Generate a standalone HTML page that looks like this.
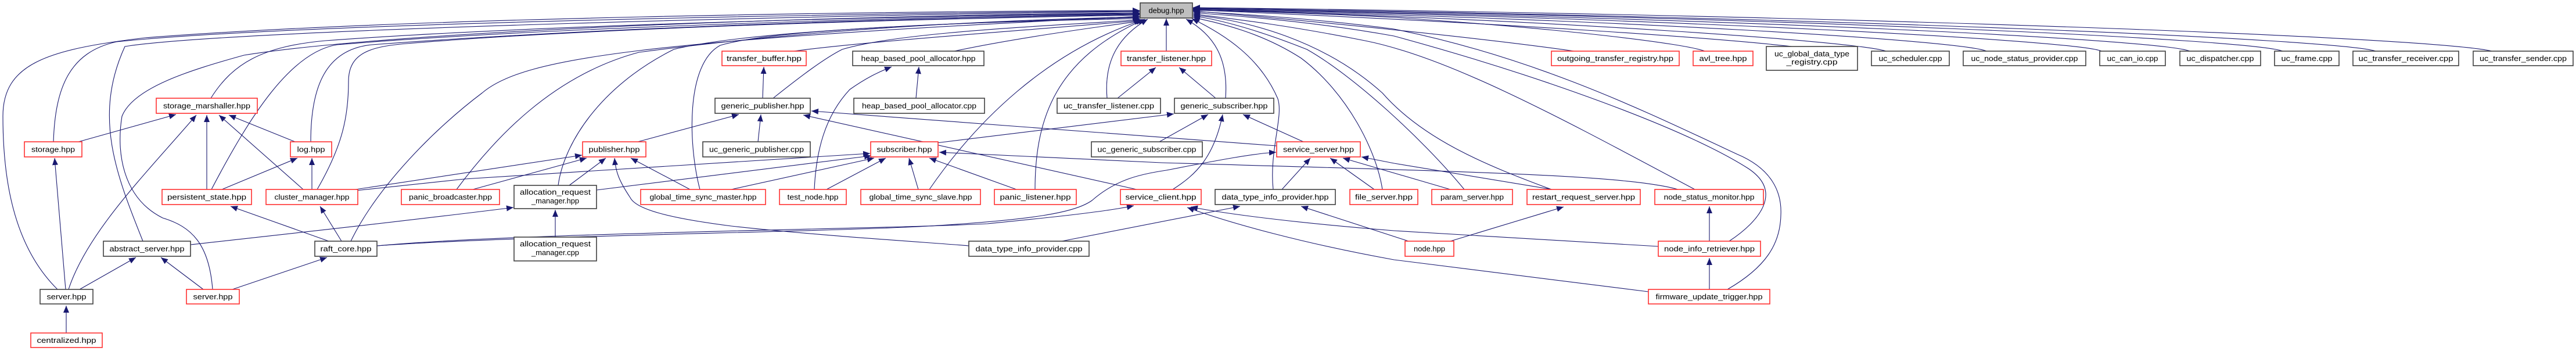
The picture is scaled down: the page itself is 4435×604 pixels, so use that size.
<!DOCTYPE html>
<html><head><meta charset="utf-8"><style>
html,body{margin:0;padding:0;background:#fff;}
svg{display:block;}
text{font-family:"Liberation Sans",sans-serif;font-size:13px;fill:#000;text-anchor:middle;}
.r{fill:#fff;stroke:#ff3030;stroke-width:1.6;}
.b{fill:#fff;stroke:#404040;stroke-width:1.6;}
.e{fill:none;stroke:#191970;stroke-width:1.1;}
</style></head><body>
<svg width="4435" height="604" viewBox="0 0 4435 604" xmlns="http://www.w3.org/2000/svg">
<defs><marker id="a" markerUnits="userSpaceOnUse" markerWidth="14" markerHeight="12" refX="12" refY="5" orient="auto"><path d="M0,0 L12,5 L0,10 z" fill="#191970"/></marker></defs>
<g class="e" marker-end="url(#a)">
<!-- edges to debug (left) -->
<path d="M99 498 C20 420,5 300,5 200 C5 110,80 85,250 65 C700 30,1500 20,1962 18"/>
<path d="M92 244 C95 150,120 90,200 72 C500 40,1500 22,1962 19"/>
<path d="M246 415 C200 300,160 200,215 80 C400 50,1500 24,1962 20"/>
<path d="M366 498 C360 420,330 390,280 375 C210 340,200 260,210 200 C230 150,330 120,420 95 C700 50,1500 26,1962 22"/>
<path d="M363 169 C400 110,450 80,560 70 C900 45,1500 28,1962 23"/>
<path d="M364 326 C430 200,500 90,580 77 C900 50,1500 30,1962 24"/>
<path d="M535 244 C535 150,560 85,640 77 C1000 50,1500 32,1962 25"/>
<path d="M546 326 C590 250,600 200,600 140 C600 90,640 80,700 75 C1000 50,1500 34,1962 26"/>
<path d="M604 415 C650 320,750 220,830 160 C900 100,1100 70,1962 28"/>
<path d="M786 326 C850 240,950 130,1100 90 C1400 50,1700 35,1962 29"/>
<path d="M961 319 C970 250,1030 150,1160 85 C1300 50,1700 38,1962 30"/>
<path d="M1205 326 C1185 250,1180 110,1240 78 C1350 45,1800 35,1963 32"/>
<path d="M1331 169 C1380 130,1420 100,1450 85 C1550 55,1800 45,1964 34"/>
<path d="M1367 88 C1500 70,1800 50,1965 35"/>
<path d="M1643 88 C1750 65,1900 45,1966 36"/>
<path d="M1600 326 C1680 210,1800 90,1968 34"/>
<path d="M1782 326 C1782 200,1820 100,1971 33"/>
<path d="M1906 169 C1900 100,1930 60,1976 33"/>
<path d="M2008 88 L2008 32"/>
<!-- edges to debug (right) -->
<path d="M2110 169 C2115 100,2090 60,2042 33"/>
<path d="M2192 326 C2185 260,2210 200,2200 170 C2170 100,2110 60,2052 32"/>
<path d="M2380 326 C2370 260,2320 160,2240 100 C2170 55,2100 40,2054 30"/>
<path d="M2521 326 C2450 240,2330 130,2250 85 C2150 45,2080 30,2054 28"/>
<path d="M2671 326 C2560 285,2450 240,2380 160 C2280 70,2150 35,2054 26"/>
<path d="M2918 326 C2700 210,2500 100,2350 70 C2200 40,2100 30,2054 24"/>
<path d="M2977 415 C3030 380,3070 330,3010 290 C2900 220,2650 130,2400 62 C2250 35,2100 25,2054 22"/>
<path d="M2974 498 C3040 460,3065 420,3066 370 C3068 330,3050 290,2990 265 C2850 200,2650 100,2400 50 C2250 30,2100 22,2054 20"/>
<path d="M2710 88 C2550 65,2250 35,2054 19"/>
<path d="M2935 88 C2900 75,2700 50,2400 30 C2250 22,2100 18,2054 18"/>
<path d="M3085 80 C2950 65,2600 40,2054 17"/>
<path d="M3247 88 C3200 72,2700 35,2054 16"/>
<path d="M3420 88 C3380 70,2800 33,2054 16"/>
<path d="M3618 88 C3580 70,2900 32,2054 15"/>
<path d="M3770 88 C3720 68,3000 31,2054 15"/>
<path d="M3930 88 C3880 68,3100 30,2054 14"/>
<path d="M4090 88 C4030 68,3200 30,2054 14"/>
<path d="M4290 88 C4200 66,3300 28,2054 13"/>
<!-- other edges -->
<path d="M135 244 L303 197"/>
<path d="M118 498 C150 400,250 300,338 198"/>
<path d="M356 326 L356 198"/>
<path d="M522 326 L377 198"/>
<path d="M508 244 L394 198"/>
<path d="M382 326 L512 272"/>
<path d="M537 326 L537 272"/>
<path d="M113 498 L94 272"/>
<path d="M566 415 L397 355"/>
<path d="M588 415 L551 355"/>
<path d="M137 498 L234 443"/>
<path d="M350 498 L277 443"/>
<path d="M400 498 L563 443"/>
<path d="M114 573 L114 526"/>
<path d="M328 421 C500 402,700 380,884 357"/>
<path d="M649 423 C900 400,1500 395,1700 385 C1800 375,1900 365,1952 354"/>
<path d="M649 423 C900 405,1400 400,1600 389 C1780 378,1850 366,1880 345 C1920 310,1960 300,2008 293 C2100 275,2160 264,2197 262"/>
<path d="M612 326 L1002 267"/>
<path d="M612 328 L800 308 L1498 264"/>
<path d="M814 326 L1010 272"/>
<path d="M980 319 L1043 272"/>
<path d="M1188 326 L1086 272"/>
<path d="M1098 244 L1272 197"/>
<path d="M1305 244 L1310 197"/>
<path d="M1313 169 L1315 115"/>
<path d="M2198 251 L1397 191"/>
<path d="M1957 326 L1383 198"/>
<path d="M1577 169 L1582 115"/>
<path d="M1402 326 C1405 260,1420 200,1463 154 C1490 135,1510 125,1535 115"/>
<path d="M1423 326 L1525 272"/>
<path d="M1259 326 L1505 272"/>
<path d="M1027 327 L1500 268"/>
<path d="M1581 326 L1565 272"/>
<path d="M1750 326 L1600 272"/>
<path d="M2889 326 C2800 300,2500 295,2000 280 L1617 262"/>
<path d="M1612 246 L2021 196"/>
<path d="M956 408 L956 361"/>
<path d="M1668 423 C1640 420,1400 405,1259 389 C1150 375,1095 360,1085 340 C1065 310,1060 295,1058 272"/>
<path d="M1924 169 L1990 116"/>
<path d="M2093 169 L2030 116"/>
<path d="M1996 244 L2080 197"/>
<path d="M2244 244 L2140 197"/>
<path d="M2019 326 C2060 300,2090 270,2105 197"/>
<path d="M2207 326 L2256 272"/>
<path d="M2366 326 L2290 272"/>
<path d="M2497 326 L2312 272"/>
<path d="M2672 326 L2400 281 L2344 270"/>
<path d="M1828 415 L2135 355"/>
<path d="M2425 415 L2240 355"/>
<path d="M2497 415 L2692 356"/>
<path d="M2855 424 L2400 397 C2250 385,2120 370,2050 356"/>
<path d="M2838 502 L2400 447 C2250 420,2120 385,2044 357"/>
<path d="M2943 415 L2943 355"/>
<path d="M2943 498 L2943 444"/>
</g>
<!-- nodes -->
<rect x="1963" y="5" width="90" height="26" fill="#bfbfbf" stroke="#404040" stroke-width="1.6"/><text x="2008" y="22.5" textLength="61" lengthAdjust="spacingAndGlyphs">debug.hpp</text>
<rect class="r" x="269" y="169" width="174" height="26"/><text x="356" y="186.5" textLength="150" lengthAdjust="spacingAndGlyphs">storage_marshaller.hpp</text>
<rect class="r" x="42" y="244" width="99" height="26"/><text x="91.5" y="261.5" textLength="75" lengthAdjust="spacingAndGlyphs">storage.hpp</text>
<rect class="r" x="500" y="244" width="71" height="26"/><text x="535.5" y="261.5" textLength="48" lengthAdjust="spacingAndGlyphs">log.hpp</text>
<rect class="r" x="279" y="326" width="154" height="26"/><text x="356" y="343.5" textLength="136" lengthAdjust="spacingAndGlyphs">persistent_state.hpp</text>
<rect class="r" x="458" y="326" width="158" height="26"/><text x="537" y="343.5" textLength="129" lengthAdjust="spacingAndGlyphs">cluster_manager.hpp</text>
<rect class="r" x="691" y="326" width="169" height="26"/><text x="775.5" y="343.5" textLength="143" lengthAdjust="spacingAndGlyphs">panic_broadcaster.hpp</text>
<rect class="b" x="178" y="415" width="150" height="26"/><text x="253" y="432.5" textLength="129" lengthAdjust="spacingAndGlyphs">abstract_server.hpp</text>
<rect class="b" x="542" y="415" width="107" height="26"/><text x="595.5" y="432.5" textLength="88" lengthAdjust="spacingAndGlyphs">raft_core.hpp</text>
<rect class="b" x="69" y="498" width="91" height="25"/><text x="114.5" y="515" textLength="68" lengthAdjust="spacingAndGlyphs">server.hpp</text>
<rect class="r" x="321" y="498" width="91" height="25"/><text x="366.5" y="515" textLength="68" lengthAdjust="spacingAndGlyphs">server.hpp</text>
<rect class="r" x="53" y="573" width="123" height="25"/><text x="114.5" y="590" textLength="102" lengthAdjust="spacingAndGlyphs">centralized.hpp</text>
<rect class="r" x="1243" y="88" width="145" height="25"/><text x="1315.5" y="105" textLength="129" lengthAdjust="spacingAndGlyphs">transfer_buffer.hpp</text>
<rect class="b" x="1468" y="88" width="226" height="25"/><text x="1581" y="105" textLength="197" lengthAdjust="spacingAndGlyphs">heap_based_pool_allocator.hpp</text>
<rect class="b" x="1231" y="169" width="164" height="26"/><text x="1313" y="186.5" textLength="143" lengthAdjust="spacingAndGlyphs">generic_publisher.hpp</text>
<rect class="b" x="1470" y="169" width="225" height="26"/><text x="1582.5" y="186.5" textLength="197" lengthAdjust="spacingAndGlyphs">heap_based_pool_allocator.cpp</text>
<rect class="r" x="1003" y="244" width="109" height="26"/><text x="1057.5" y="261.5" textLength="88" lengthAdjust="spacingAndGlyphs">publisher.hpp</text>
<rect class="b" x="1210" y="244" width="185" height="26"/><text x="1302.5" y="261.5" textLength="163" lengthAdjust="spacingAndGlyphs">uc_generic_publisher.cpp</text>
<rect class="r" x="1499" y="244" width="116" height="26"/><text x="1557" y="261.5" textLength="95" lengthAdjust="spacingAndGlyphs">subscriber.hpp</text>
<rect class="b" x="885" y="319" width="142" height="40"/><text x="956" y="335" textLength="122" lengthAdjust="spacingAndGlyphs">allocation_request</text><text x="956" y="350" textLength="82" lengthAdjust="spacingAndGlyphs">_manager.hpp</text>
<rect class="r" x="1103" y="326" width="215" height="26"/><text x="1210.5" y="343.5" textLength="184" lengthAdjust="spacingAndGlyphs">global_time_sync_master.hpp</text>
<rect class="r" x="1342" y="326" width="115" height="26"/><text x="1399.5" y="343.5" textLength="88" lengthAdjust="spacingAndGlyphs">test_node.hpp</text>
<rect class="r" x="1482" y="326" width="206" height="26"/><text x="1585" y="343.5" textLength="177" lengthAdjust="spacingAndGlyphs">global_time_sync_slave.hpp</text>
<rect class="b" x="885" y="408" width="142" height="41"/><text x="956" y="424" textLength="122" lengthAdjust="spacingAndGlyphs">allocation_request</text><text x="956" y="439" textLength="82" lengthAdjust="spacingAndGlyphs">_manager.cpp</text>
<rect class="r" x="1930" y="88" width="156" height="25"/><text x="2008" y="105" textLength="136" lengthAdjust="spacingAndGlyphs">transfer_listener.hpp</text>
<rect class="b" x="1820" y="169" width="178" height="26"/><text x="1909" y="186.5" textLength="156" lengthAdjust="spacingAndGlyphs">uc_transfer_listener.cpp</text>
<rect class="b" x="2022" y="169" width="171" height="26"/><text x="2107.5" y="186.5" textLength="150" lengthAdjust="spacingAndGlyphs">generic_subscriber.hpp</text>
<rect class="b" x="1879" y="244" width="191" height="26"/><text x="1974.5" y="261.5" textLength="170" lengthAdjust="spacingAndGlyphs">uc_generic_subscriber.cpp</text>
<rect class="r" x="2198" y="244" width="144" height="26"/><text x="2270" y="261.5" textLength="122" lengthAdjust="spacingAndGlyphs">service_server.hpp</text>
<rect class="r" x="1712" y="326" width="141" height="26"/><text x="1782.5" y="343.5" textLength="122" lengthAdjust="spacingAndGlyphs">panic_listener.hpp</text>
<rect class="r" x="1929" y="326" width="139" height="26"/><text x="1998.5" y="343.5" textLength="122" lengthAdjust="spacingAndGlyphs">service_client.hpp</text>
<rect class="b" x="2092" y="326" width="207" height="26"/><text x="2195.5" y="343.5" textLength="184" lengthAdjust="spacingAndGlyphs">data_type_info_provider.hpp</text>
<rect class="r" x="2324" y="326" width="117" height="26"/><text x="2382.5" y="343.5" textLength="99" lengthAdjust="spacingAndGlyphs">file_server.hpp</text>
<rect class="b" x="1668" y="415" width="207" height="26"/><text x="1771.5" y="432.5" textLength="184" lengthAdjust="spacingAndGlyphs">data_type_info_provider.cpp</text>
<rect class="r" x="2465" y="326" width="139" height="26"/><text x="2534.5" y="343.5" textLength="109" lengthAdjust="spacingAndGlyphs">param_server.hpp</text>
<rect class="r" x="2629" y="326" width="195" height="26"/><text x="2726.5" y="343.5" textLength="177" lengthAdjust="spacingAndGlyphs">restart_request_server.hpp</text>
<rect class="r" x="2849" y="326" width="187" height="26"/><text x="2942.5" y="343.5" textLength="156" lengthAdjust="spacingAndGlyphs">node_status_monitor.hpp</text>
<rect class="r" x="2671" y="88" width="220" height="25"/><text x="2781" y="105" textLength="200" lengthAdjust="spacingAndGlyphs">outgoing_transfer_registry.hpp</text>
<rect class="r" x="2915" y="88" width="103" height="25"/><text x="2966.5" y="105" textLength="82" lengthAdjust="spacingAndGlyphs">avl_tree.hpp</text>
<rect class="b" x="3041" y="80" width="157" height="41"/><text x="3119.5" y="97" textLength="129" lengthAdjust="spacingAndGlyphs">uc_global_data_type</text><text x="3119.5" y="111" textLength="88" lengthAdjust="spacingAndGlyphs">_registry.cpp</text>
<rect class="r" x="2419" y="415" width="84" height="26"/><text x="2461" y="432.5" textLength="54" lengthAdjust="spacingAndGlyphs">node.hpp</text>
<rect class="r" x="2855" y="415" width="176" height="26"/><text x="2943" y="432.5" textLength="156" lengthAdjust="spacingAndGlyphs">node_info_retriever.hpp</text>
<rect class="r" x="2838" y="498" width="209" height="25"/><text x="2942.5" y="515" textLength="184" lengthAdjust="spacingAndGlyphs">firmware_update_trigger.hpp</text>
<rect class="b" x="3222" y="88" width="134" height="25"/><text x="3289" y="105" textLength="109" lengthAdjust="spacingAndGlyphs">uc_scheduler.cpp</text>
<rect class="b" x="3380" y="88" width="211" height="25"/><text x="3485.5" y="105" textLength="184" lengthAdjust="spacingAndGlyphs">uc_node_status_provider.cpp</text>
<rect class="b" x="3615" y="88" width="113" height="25"/><text x="3671.5" y="105" textLength="88" lengthAdjust="spacingAndGlyphs">uc_can_io.cpp</text>
<rect class="b" x="3753" y="88" width="139" height="25"/><text x="3822.5" y="105" textLength="116" lengthAdjust="spacingAndGlyphs">uc_dispatcher.cpp</text>
<rect class="b" x="3916" y="88" width="111" height="25"/><text x="3971.5" y="105" textLength="88" lengthAdjust="spacingAndGlyphs">uc_frame.cpp</text>
<rect class="b" x="4051" y="88" width="182" height="25"/><text x="4142" y="105" textLength="163" lengthAdjust="spacingAndGlyphs">uc_transfer_receiver.cpp</text>
<rect class="b" x="4258" y="88" width="172" height="25"/><text x="4344" y="105" textLength="150" lengthAdjust="spacingAndGlyphs">uc_transfer_sender.cpp</text>
</svg>
</body></html>
